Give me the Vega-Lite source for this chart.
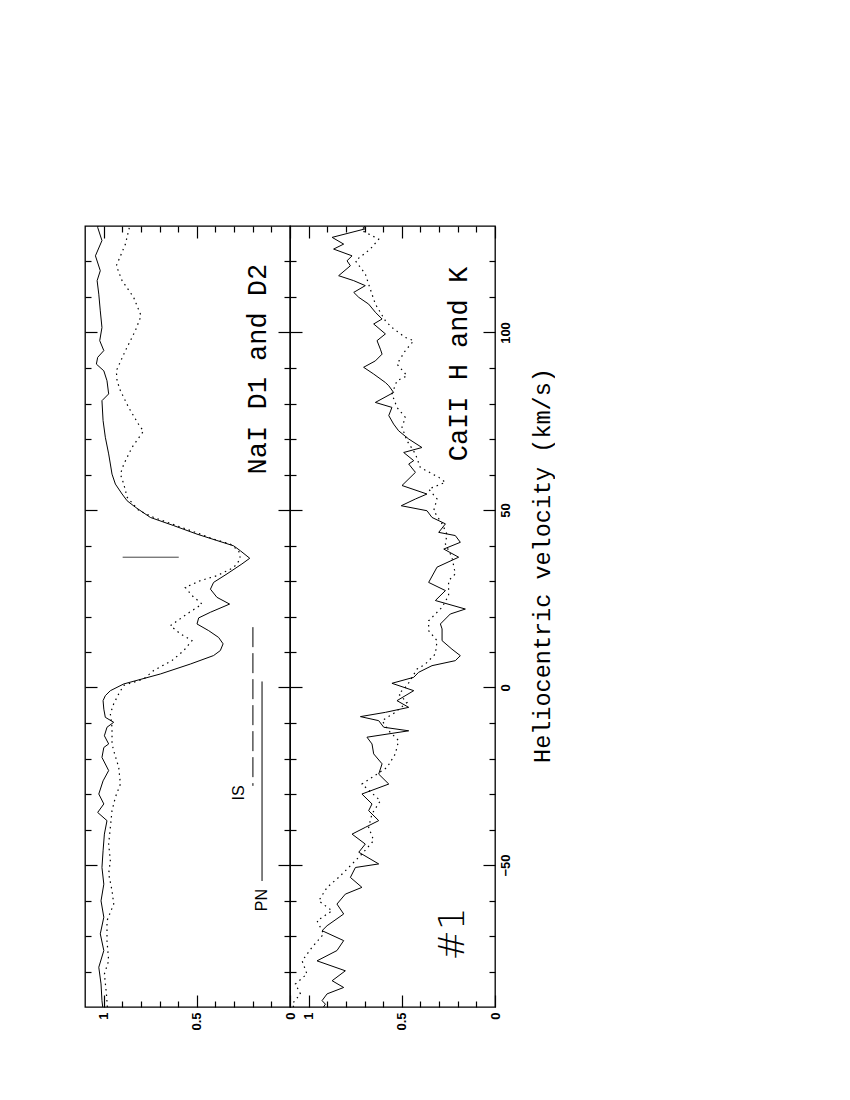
{
  "$schema": "https://vega.github.io/schema/vega-lite/v6.json",
  "background": "white",
  "padding": {"left": 83, "top": 222, "right": 0, "bottom": 0},
  "spacing": 0,
  "bounds": "flush",
  "config": {
    "view": {"stroke": "black", "strokeWidth": 1.3},
    "axis": {"domain": false, "grid": false, "tickColor": "black", "tickWidth": 1.2, "labelFont": "Liberation Sans", "labelFontSize": 13, "labelFontWeight": "bold", "labelColor": "black", "titleColor": "black"},
    "line": {"color": "black", "strokeWidth": 1}
  },
  "datasets": {
    "nai_solid": [
      {"vel": 130, "flux": 1.03}, {"vel": 129.6, "flux": 1.032}, {"vel": 125.9, "flux": 1.009}, {"vel": 121.6, "flux": 1.044}, {"vel": 117.4, "flux": 1.018}, {"vel": 114.6, "flux": 1.035}, {"vel": 110.8, "flux": 1.026}, {"vel": 106.1, "flux": 1.018}, {"vel": 101.4, "flux": 1.009}, {"vel": 97.7, "flux": 1.021}, {"vel": 94.9, "flux": 0.999}, {"vel": 93.0, "flux": 1.032}, {"vel": 91.1, "flux": 1.039}, {"vel": 89.2, "flux": 0.999}, {"vel": 86.4, "flux": 0.982}, {"vel": 82.7, "flux": 0.973}, {"vel": 80.8, "flux": 1.009}, {"vel": 75.2, "flux": 1.003}, {"vel": 70.5, "flux": 0.991}, {"vel": 65.8, "flux": 0.973}, {"vel": 62.96, "flux": 0.964}, {"vel": 60.1, "flux": 0.955}, {"vel": 57.3, "flux": 0.937}, {"vel": 54.5, "flux": 0.901}, {"vel": 52.6, "flux": 0.874}, {"vel": 50.8, "flux": 0.83}, {"vel": 47.9, "flux": 0.749}, {"vel": 45.6, "flux": 0.624}, {"vel": 43.2, "flux": 0.499}, {"vel": 41.4, "flux": 0.392}, {"vel": 39.9, "flux": 0.302}, {"vel": 38.5, "flux": 0.266}, {"vel": 36.4, "flux": 0.216}, {"vel": 34.8, "flux": 0.258}, {"vel": 32.0, "flux": 0.338}, {"vel": 29.6, "flux": 0.41}, {"vel": 27.7, "flux": 0.427}, {"vel": 25.4, "flux": 0.392}, {"vel": 23.5, "flux": 0.324}, {"vel": 21.2, "flux": 0.427}, {"vel": 19.6, "flux": 0.49}, {"vel": 17.9, "flux": 0.499}, {"vel": 16.0, "flux": 0.436}, {"vel": 14.1, "flux": 0.383}, {"vel": 12.3, "flux": 0.359}, {"vel": 10.4, "flux": 0.374}, {"vel": 9.0, "flux": 0.41}, {"vel": 6.6, "flux": 0.535}, {"vel": 3.8, "flux": 0.696}, {"vel": 1.0, "flux": 0.892}, {"vel": -0.9, "flux": 0.964}, {"vel": -2.3, "flux": 0.991}, {"vel": -3.7, "flux": 1.003}, {"vel": -6.1, "flux": 0.999}, {"vel": -8.4, "flux": 0.991}, {"vel": -9.8, "flux": 0.946}, {"vel": -11.2, "flux": 0.982}, {"vel": -13.6, "flux": 0.996}, {"vel": -15.9, "flux": 0.973}, {"vel": -16.9, "flux": 0.999}, {"vel": -19.7, "flux": 1.009}, {"vel": -23.4, "flux": 0.973}, {"vel": -26.3, "flux": 1.003}, {"vel": -30.0, "flux": 1.026}, {"vel": -32.8, "flux": 0.999}, {"vel": -35.2, "flux": 1.032}, {"vel": -37.5, "flux": 0.982}, {"vel": -41.3, "flux": 0.996}, {"vel": -46.0, "flux": 1.003}, {"vel": -50.7, "flux": 1.009}, {"vel": -55.4, "flux": 0.999}, {"vel": -60.1, "flux": 1.014}, {"vel": -64.7, "flux": 0.999}, {"vel": -69.4, "flux": 1.018}, {"vel": -74.1, "flux": 0.999}, {"vel": -78.8, "flux": 1.026}, {"vel": -83.5, "flux": 1.014}, {"vel": -88.2, "flux": 1.009}, {"vel": -90, "flux": 1.005}
    ],
    "nai_dot": [
      {"vel": 130, "flux": 0.86}, {"vel": 128.7, "flux": 0.866}, {"vel": 124.9, "flux": 0.883}, {"vel": 118.8, "flux": 0.932}, {"vel": 114.6, "flux": 0.901}, {"vel": 109.9, "flux": 0.839}, {"vel": 104.7, "flux": 0.799}, {"vel": 100.5, "flux": 0.83}, {"vel": 94.9, "flux": 0.883}, {"vel": 89.2, "flux": 0.932}, {"vel": 86.4, "flux": 0.928}, {"vel": 83.6, "flux": 0.91}, {"vel": 78.9, "flux": 0.866}, {"vel": 73.3, "flux": 0.803}, {"vel": 72.3, "flux": 0.785}, {"vel": 67.6, "flux": 0.848}, {"vel": 62.9, "flux": 0.892}, {"vel": 60.1, "flux": 0.91}, {"vel": 57.3, "flux": 0.892}, {"vel": 53.6, "flux": 0.874}, {"vel": 49.9, "flux": 0.812}, {"vel": 47.9, "flux": 0.731}, {"vel": 43.2, "flux": 0.481}, {"vel": 41.8, "flux": 0.41}, {"vel": 40.4, "flux": 0.32}, {"vel": 38.5, "flux": 0.275}, {"vel": 36.2, "flux": 0.266}, {"vel": 33.8, "flux": 0.302}, {"vel": 31.5, "flux": 0.392}, {"vel": 30.1, "flux": 0.481}, {"vel": 28.2, "flux": 0.562}, {"vel": 25.9, "flux": 0.526}, {"vel": 23.5, "flux": 0.472}, {"vel": 20.7, "flux": 0.553}, {"vel": 17.4, "flux": 0.642}, {"vel": 15.1, "flux": 0.588}, {"vel": 13.2, "flux": 0.526}, {"vel": 10.4, "flux": 0.57}, {"vel": 7.6, "flux": 0.633}, {"vel": 4.8, "flux": 0.731}, {"vel": 2.4, "flux": 0.785}, {"vel": 0.6, "flux": 0.892}, {"vel": -1.8, "flux": 0.919}, {"vel": -4.6, "flux": 0.946}, {"vel": -7.4, "flux": 0.964}, {"vel": -11.2, "flux": 0.955}, {"vel": -15.9, "flux": 0.955}, {"vel": -17.8, "flux": 0.946}, {"vel": -22.5, "flux": 0.919}, {"vel": -27.2, "flux": 0.91}, {"vel": -30.9, "flux": 0.937}, {"vel": -34.7, "flux": 0.955}, {"vel": -39.4, "flux": 0.964}, {"vel": -44.1, "flux": 0.973}, {"vel": -48.8, "flux": 0.964}, {"vel": -52.5, "flux": 0.973}, {"vel": -57.2, "flux": 0.955}, {"vel": -61.0, "flux": 0.946}, {"vel": -65.7, "flux": 0.982}, {"vel": -71.3, "flux": 0.982}, {"vel": -77.0, "flux": 0.973}, {"vel": -80.7, "flux": 0.996}, {"vel": -86.3, "flux": 0.985}, {"vel": -90, "flux": 0.98}
    ],
    "ca_solid": [
      {"vel": 130, "flux": 0.7}, {"vel": 129.2, "flux": 0.696}, {"vel": 126.8, "flux": 0.874}, {"vel": 124.9, "flux": 0.812}, {"vel": 123.5, "flux": 0.866}, {"vel": 121.6, "flux": 0.767}, {"vel": 120.2, "flux": 0.794}, {"vel": 118.8, "flux": 0.776}, {"vel": 116.0, "flux": 0.839}, {"vel": 114.6, "flux": 0.758}, {"vel": 113.2, "flux": 0.696}, {"vel": 111.3, "flux": 0.758}, {"vel": 109.9, "flux": 0.731}, {"vel": 108.0, "flux": 0.678}, {"vel": 105.7, "flux": 0.642}, {"vel": 103.8, "flux": 0.606}, {"vel": 102.4, "flux": 0.651}, {"vel": 99.6, "flux": 0.588}, {"vel": 97.7, "flux": 0.633}, {"vel": 95.3, "flux": 0.615}, {"vel": 93.9, "flux": 0.606}, {"vel": 92.0, "flux": 0.642}, {"vel": 90.2, "flux": 0.705}, {"vel": 88.3, "flux": 0.651}, {"vel": 85.9, "flux": 0.588}, {"vel": 85.0, "flux": 0.57}, {"vel": 83.1, "flux": 0.544}, {"vel": 80.3, "flux": 0.642}, {"vel": 78.9, "flux": 0.553}, {"vel": 76.6, "flux": 0.57}, {"vel": 74.2, "flux": 0.544}, {"vel": 72.3, "flux": 0.517}, {"vel": 70.0, "flux": 0.463}, {"vel": 67.6, "flux": 0.392}, {"vel": 66.2, "flux": 0.49}, {"vel": 63.9, "flux": 0.436}, {"vel": 62.96, "flux": 0.463}, {"vel": 60.6, "flux": 0.427}, {"vel": 56.9, "flux": 0.499}, {"vel": 54.5, "flux": 0.365}, {"vel": 53.1, "flux": 0.427}, {"vel": 51.2, "flux": 0.503}, {"vel": 49.8, "flux": 0.365}, {"vel": 47.9, "flux": 0.338}, {"vel": 46.1, "flux": 0.266}, {"vel": 43.7, "flux": 0.302}, {"vel": 42.8, "flux": 0.213}, {"vel": 40.9, "flux": 0.186}, {"vel": 39.0, "flux": 0.275}, {"vel": 36.7, "flux": 0.195}, {"vel": 33.9, "flux": 0.311}, {"vel": 29.6, "flux": 0.356}, {"vel": 27.3, "flux": 0.266}, {"vel": 24.5, "flux": 0.32}, {"vel": 22.1, "flux": 0.159}, {"vel": 20.7, "flux": 0.24}, {"vel": 17.9, "flux": 0.293}, {"vel": 16.5, "flux": 0.284}, {"vel": 13.2, "flux": 0.284}, {"vel": 10.8, "flux": 0.231}, {"vel": 8.97, "flux": 0.186}, {"vel": 7.56, "flux": 0.213}, {"vel": 6.15, "flux": 0.338}, {"vel": 4.27, "flux": 0.41}, {"vel": 2.87, "flux": 0.436}, {"vel": 1.18, "flux": 0.553}, {"vel": -0.89, "flux": 0.436}, {"vel": -3.71, "flux": 0.526}, {"vel": -5.59, "flux": 0.463}, {"vel": -7.0, "flux": 0.588}, {"vel": -8.2, "flux": 0.722}, {"vel": -9.34, "flux": 0.624}, {"vel": -11.2, "flux": 0.597}, {"vel": -12.2, "flux": 0.463}, {"vel": -14.0, "flux": 0.687}, {"vel": -15.9, "flux": 0.66}, {"vel": -18.7, "flux": 0.651}, {"vel": -21.5, "flux": 0.606}, {"vel": -24.4, "flux": 0.624}, {"vel": -27.2, "flux": 0.57}, {"vel": -30.0, "flux": 0.714}, {"vel": -32.8, "flux": 0.66}, {"vel": -34.7, "flux": 0.678}, {"vel": -37.5, "flux": 0.624}, {"vel": -39.4, "flux": 0.696}, {"vel": -41.3, "flux": 0.767}, {"vel": -44.1, "flux": 0.696}, {"vel": -46.4, "flux": 0.731}, {"vel": -49.7, "flux": 0.624}, {"vel": -50.7, "flux": 0.749}, {"vel": -53.5, "flux": 0.776}, {"vel": -56.3, "flux": 0.714}, {"vel": -58.2, "flux": 0.803}, {"vel": -61.0, "flux": 0.848}, {"vel": -63.8, "flux": 0.812}, {"vel": -67.1, "flux": 0.901}, {"vel": -68.5, "flux": 0.928}, {"vel": -71.3, "flux": 0.812}, {"vel": -74.1, "flux": 0.848}, {"vel": -77.0, "flux": 0.955}, {"vel": -79.8, "flux": 0.803}, {"vel": -82.6, "flux": 0.874}, {"vel": -84.5, "flux": 0.812}, {"vel": -86.3, "flux": 0.901}, {"vel": -88.2, "flux": 0.928}, {"vel": -89.2, "flux": 0.91}, {"vel": -90, "flux": 0.92}
    ],
    "ca_dot": [
      {"vel": 130, "flux": 0.7}, {"vel": 128.7, "flux": 0.714}, {"vel": 126.3, "flux": 0.624}, {"vel": 123.5, "flux": 0.669}, {"vel": 120.2, "flux": 0.749}, {"vel": 116.5, "flux": 0.696}, {"vel": 112.2, "flux": 0.669}, {"vel": 108.0, "flux": 0.642}, {"vel": 103.3, "flux": 0.588}, {"vel": 101.4, "flux": 0.553}, {"vel": 98.6, "flux": 0.481}, {"vel": 97.7, "flux": 0.436}, {"vel": 94.9, "flux": 0.481}, {"vel": 91.1, "flux": 0.526}, {"vel": 87.8, "flux": 0.472}, {"vel": 86.4, "flux": 0.526}, {"vel": 82.7, "flux": 0.553}, {"vel": 78.9, "flux": 0.526}, {"vel": 76.1, "flux": 0.481}, {"vel": 73.3, "flux": 0.499}, {"vel": 69.5, "flux": 0.472}, {"vel": 65.8, "flux": 0.427}, {"vel": 62.0, "flux": 0.401}, {"vel": 59.2, "flux": 0.302}, {"vel": 57.8, "flux": 0.266}, {"vel": 55.9, "flux": 0.356}, {"vel": 53.1, "flux": 0.311}, {"vel": 49.8, "flux": 0.329}, {"vel": 46.1, "flux": 0.284}, {"vel": 43.2, "flux": 0.258}, {"vel": 40.4, "flux": 0.266}, {"vel": 36.7, "flux": 0.231}, {"vel": 32.0, "flux": 0.213}, {"vel": 30.1, "flux": 0.249}, {"vel": 25.9, "flux": 0.249}, {"vel": 22.6, "flux": 0.284}, {"vel": 18.8, "flux": 0.356}, {"vel": 16.0, "flux": 0.356}, {"vel": 13.2, "flux": 0.311}, {"vel": 9.44, "flux": 0.32}, {"vel": 6.6, "flux": 0.374}, {"vel": 5.2, "flux": 0.418}, {"vel": 2.87, "flux": 0.445}, {"vel": 0.52, "flux": 0.472}, {"vel": -1.83, "flux": 0.517}, {"vel": -4.2, "flux": 0.472}, {"vel": -7.0, "flux": 0.535}, {"vel": -9.34, "flux": 0.606}, {"vel": -12.2, "flux": 0.57}, {"vel": -14.97, "flux": 0.517}, {"vel": -18.7, "flux": 0.535}, {"vel": -22.5, "flux": 0.579}, {"vel": -27.2, "flux": 0.714}, {"vel": -31.9, "flux": 0.615}, {"vel": -35.6, "flux": 0.66}, {"vel": -39.4, "flux": 0.678}, {"vel": -43.1, "flux": 0.651}, {"vel": -46.9, "flux": 0.714}, {"vel": -50.7, "flux": 0.785}, {"vel": -53.5, "flux": 0.839}, {"vel": -56.3, "flux": 0.901}, {"vel": -60.1, "flux": 0.946}, {"vel": -62.9, "flux": 0.874}, {"vel": -65.7, "flux": 0.955}, {"vel": -69.4, "flux": 0.919}, {"vel": -73.2, "flux": 0.982}, {"vel": -77.0, "flux": 1.035}, {"vel": -80.7, "flux": 1.009}, {"vel": -83.5, "flux": 1.071}, {"vel": -86.3, "flux": 1.044}, {"vel": -89.2, "flux": 1.089}, {"vel": -90, "flux": 1.08}
    ]
  },
  "hconcat": [
    {
      "width": 205,
      "height": 781,
      "resolve": {"axis": {"x": "independent", "y": "independent"}},
      "layer": [
        {
          "data": {"name": "nai_solid"},
          "mark": {"type": "line", "color": "black", "strokeWidth": 1},
          "encoding": {
            "x": {"field": "flux", "type": "quantitative", "scale": {"domain": [0, 1.1], "reverse": true, "nice": false, "zero": false},
              "axis": {"orient": "bottom", "title": null, "values": [0, 0.1, 0.2, 0.3, 0.4, 0.5, 0.6, 0.7, 0.8, 0.9, 1.0], "labelAngle": 270, "labelAlign": "right", "labelBaseline": "middle", "labelPadding": 17,
                "labelExpr": "datum.value < 0.01 ? '0' : abs(datum.value - 0.5) < 0.01 ? '0.5' : abs(datum.value - 1) < 0.01 ? '1' : ''",
                "tickSize": {"condition": {"test": "abs(datum.value * 2 - round(datum.value * 2)) < 0.001", "value": -12}, "value": -6}}},
            "y": {"field": "vel", "type": "quantitative", "scale": {"domain": [-90, 130], "nice": false, "zero": false},
              "axis": {"orient": "left", "title": null, "labels": false, "values": [-80, -70, -60, -50, -40, -30, -20, -10, 0, 10, 20, 30, 40, 50, 60, 70, 80, 90, 100, 110, 120],
                "tickSize": {"condition": {"test": "datum.value % 50 === 0", "value": -12}, "value": -6}}},
            "order": {"field": "vel", "type": "quantitative"}
          }
        },
        {
          "data": {"name": "nai_dot"},
          "mark": {"type": "line", "color": "black", "strokeWidth": 1.2, "strokeDash": [1.5, 4]},
          "encoding": {
            "x": {"field": "flux", "type": "quantitative",
              "axis": {"orient": "top", "title": null, "labels": false, "values": [0, 0.1, 0.2, 0.3, 0.4, 0.5, 0.6, 0.7, 0.8, 0.9, 1.0],
                "tickSize": {"condition": {"test": "abs(datum.value * 2 - round(datum.value * 2)) < 0.001", "value": -12}, "value": -6}}},
            "y": {"field": "vel", "type": "quantitative",
              "axis": {"orient": "right", "title": null, "labels": false, "values": [-80, -70, -60, -50, -40, -30, -20, -10, 0, 10, 20, 30, 40, 50, 60, 70, 80, 90, 100, 110, 120],
                "tickSize": {"condition": {"test": "datum.value % 50 === 0", "value": -12}, "value": -6}}},
            "order": {"field": "vel", "type": "quantitative"}
          }
        },
        {
          "data": {"values": [{"label": "NaI D1 and D2", "vel": 89.7, "flux": 0.172}]},
          "mark": {"type": "text", "angle": 270, "font": "Liberation Mono", "fontSize": 27, "align": "center", "baseline": "middle", "color": "black"},
          "encoding": {"x": {"field": "flux", "type": "quantitative", "axis": null}, "y": {"field": "vel", "type": "quantitative", "axis": null}, "text": {"field": "label"}}
        },
        {
          "data": {"values": [{"label": "PN", "vel": -59.9, "flux": 0.15}, {"label": "IS", "vel": -29.7, "flux": 0.274}]},
          "mark": {"type": "text", "angle": 270, "font": "Liberation Sans", "fontSize": 16, "align": "center", "baseline": "middle", "color": "black"},
          "encoding": {"x": {"field": "flux", "type": "quantitative", "axis": null}, "y": {"field": "vel", "type": "quantitative", "axis": null}, "text": {"field": "label"}}
        },
        {
          "data": {"values": [{"line": "PN", "vel": 1.7, "vel2": -54.5, "flux": 0.15}]},
          "mark": {"type": "rule", "color": "black", "strokeWidth": 1},
          "encoding": {"x": {"field": "flux", "type": "quantitative", "axis": null}, "y": {"field": "vel", "type": "quantitative", "axis": null}, "y2": {"field": "vel2"}}
        },
        {
          "data": {"values": [{"line": "IS", "vel": 17.0, "vel2": -27.7, "flux": 0.199}]},
          "mark": {"type": "rule", "color": "black", "strokeWidth": 1, "strokeDash": [20, 6]},
          "encoding": {"x": {"field": "flux", "type": "quantitative", "axis": null}, "y": {"field": "vel", "type": "quantitative", "axis": null}, "y2": {"field": "vel2"}}
        },
        {
          "data": {"values": [{"line": "marker", "vel": 36.7, "flux": 0.898, "flux2": 0.597}]},
          "mark": {"type": "rule", "color": "#444444", "strokeWidth": 1},
          "encoding": {"x": {"field": "flux", "type": "quantitative", "axis": null}, "x2": {"field": "flux2"}, "y": {"field": "vel", "type": "quantitative", "axis": null}}
        }
      ]
    },
    {
      "width": 205,
      "height": 781,
      "resolve": {"axis": {"x": "independent", "y": "independent"}},
      "layer": [
        {
          "data": {"name": "ca_solid"},
          "mark": {"type": "line", "color": "black", "strokeWidth": 1},
          "encoding": {
            "x": {"field": "flux", "type": "quantitative", "scale": {"domain": [0, 1.1], "reverse": true, "nice": false, "zero": false},
              "axis": {"orient": "bottom", "title": null, "values": [0, 0.1, 0.2, 0.3, 0.4, 0.5, 0.6, 0.7, 0.8, 0.9, 1.0], "labelAngle": 270, "labelAlign": "right", "labelBaseline": "middle", "labelPadding": 17,
                "labelExpr": "datum.value < 0.01 ? '0' : abs(datum.value - 0.5) < 0.01 ? '0.5' : abs(datum.value - 1) < 0.01 ? '1' : ''",
                "tickSize": {"condition": {"test": "abs(datum.value * 2 - round(datum.value * 2)) < 0.001", "value": -12}, "value": -6}}},
            "y": {"field": "vel", "type": "quantitative", "scale": {"domain": [-90, 130], "nice": false, "zero": false},
              "axis": {"orient": "left", "title": null, "labels": false, "values": [-80, -70, -60, -50, -40, -30, -20, -10, 0, 10, 20, 30, 40, 50, 60, 70, 80, 90, 100, 110, 120],
                "tickSize": {"condition": {"test": "datum.value % 50 === 0", "value": -12}, "value": -6}}},
            "order": {"field": "vel", "type": "quantitative"}
          }
        },
        {
          "data": {"name": "ca_dot"},
          "mark": {"type": "line", "color": "black", "strokeWidth": 1.2, "strokeDash": [1.5, 4]},
          "encoding": {
            "x": {"field": "flux", "type": "quantitative",
              "axis": {"orient": "top", "title": null, "labels": false, "values": [0, 0.1, 0.2, 0.3, 0.4, 0.5, 0.6, 0.7, 0.8, 0.9, 1.0],
                "tickSize": {"condition": {"test": "abs(datum.value * 2 - round(datum.value * 2)) < 0.001", "value": -12}, "value": -6}}},
            "y": {"field": "vel", "type": "quantitative",
              "axis": {"orient": "right", "title": "Heliocentric velocity (km/s)", "values": [-80, -70, -60, -50, -40, -30, -20, -10, 0, 10, 20, 30, 40, 50, 60, 70, 80, 90, 100, 110, 120],
                "labelAngle": 270, "labelAlign": "center", "labelBaseline": "top", "labelPadding": 16,
                "labelExpr": "datum.value % 50 === 0 ? (datum.value < 0 ? '\u221250' : format(datum.value, 'd')) : ''",
                "tickSize": {"condition": {"test": "datum.value % 50 === 0", "value": -12}, "value": -6},
                "titleFont": "Liberation Mono", "titleFontSize": 23.5, "titleFontWeight": "normal", "titleAngle": 270, "titleAlign": "center", "titleBaseline": "middle", "titleX": 47, "titleY": 339}},
            "order": {"field": "vel", "type": "quantitative"}
          }
        },
        {
          "data": {"values": [{"label": "CaII H and K", "vel": 91.1, "flux": 0.193}]},
          "mark": {"type": "text", "angle": 270, "font": "Liberation Mono", "fontSize": 27, "align": "center", "baseline": "middle", "color": "black"},
          "encoding": {"x": {"field": "flux", "type": "quantitative", "axis": null}, "y": {"field": "vel", "type": "quantitative", "axis": null}, "text": {"field": "label"}}
        },
        {
          "data": {"values": [{"label": "#1", "vel": -69.4, "flux": 0.225}]},
          "mark": {"type": "text", "angle": 270, "font": "DejaVu Sans", "fontSize": 36, "fontWeight": 200, "align": "center", "baseline": "middle", "color": "black"},
          "encoding": {"x": {"field": "flux", "type": "quantitative", "axis": null}, "y": {"field": "vel", "type": "quantitative", "axis": null}, "text": {"field": "label"}}
        }
      ]
    }
  ]
}
